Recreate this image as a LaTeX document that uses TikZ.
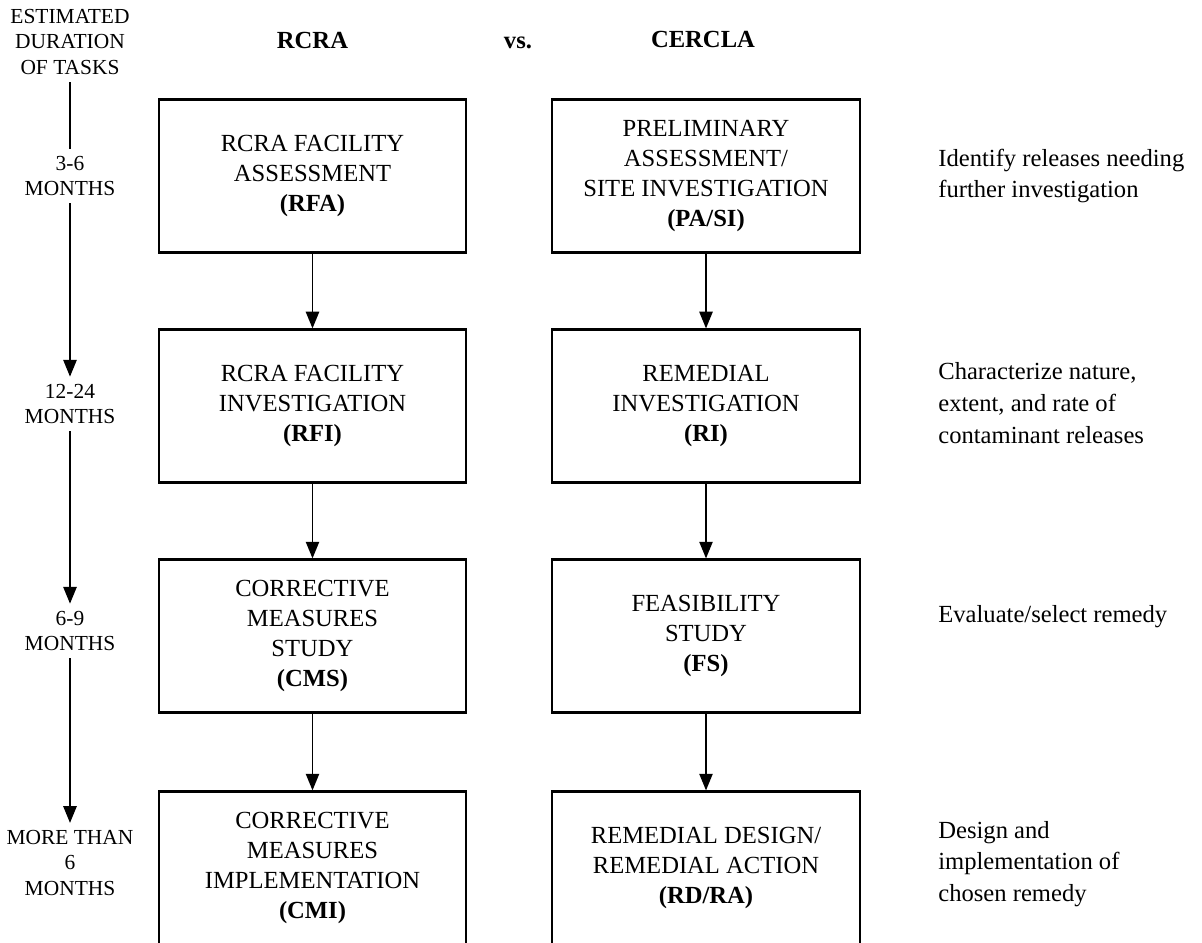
\documentclass[tikz,border=0pt]{standalone}
\usepackage{fontspec}
\setmainfont{Liberation Serif}
\usetikzlibrary{arrows.meta}
\tikzset{
  stagebox/.style={draw, line width=1.2pt, minimum width=6.15cm, minimum height=3.06cm,
    inner sep=0pt, align=center, font=\fontsize{14}{17}\selectfont},
  flow/.style={-{Triangle[length=9.5pt,width=7.5pt]}, line width=1.1pt},
  timeline/.style={line width=1.1pt},
  months/.style={align=center, inner sep=4pt, font=\fontsize{12.2}{14.5}\selectfont},
  note/.style={align=left, anchor=west, inner sep=0pt, font=\fontsize{14}{18}\selectfont},
  head/.style={anchor=base, font=\fontsize{14}{17}\selectfont\bfseries}
}

\begin{document}
\begin{tikzpicture}
        \clip (0,0) rectangle (24.04,-18.86);
        % Headings
        \node[months] (dur) at (1.4,-0.84) {ESTIMATED\\DURATION\\OF TASKS};
        \node[head] (rcra) at (6.25,-0.98) {RCRA};
        \node[head] (vs) at (10.36,-0.98) {vs.};
        \node[head] (cercla) at (14.06,-0.96) {CERCLA};

        % The RCRA steps
        \node[stagebox] (rfa) at (6.25,-3.52) {RCRA FACILITY\\ASSESSMENT\\\textbf{(RFA)}};
        \node[stagebox] (rfi) at (6.25,-8.12) {RCRA FACILITY\\INVESTIGATION\\\textbf{(RFI)}};
        \node[stagebox] (cms) at (6.25,-12.72) {CORRECTIVE\\MEASURES\\STUDY\\\textbf{(CMS)}};
        \node[stagebox] (cmi) at (6.25,-17.36) {CORRECTIVE\\MEASURES\\IMPLEMENTATION\\\textbf{(CMI)}};

        % The CERCLA steps
        \node[stagebox] (pasi) at (14.12,-3.52) {PRELIMINARY\\ASSESSMENT/\\SITE INVESTIGATION\\\textbf{(PA/SI)}};
        \node[stagebox] (ri) at (14.12,-8.12) {REMEDIAL\\INVESTIGATION\\\textbf{(RI)}};
        \node[stagebox] (fs) at (14.12,-12.72) {FEASIBILITY\\STUDY\\\textbf{(FS)}};
        \node[stagebox] (rdra) at (14.12,-17.36) {REMEDIAL DESIGN/\\REMEDIAL ACTION\\\textbf{(RD/RA)}};

        \draw[flow] (rfa) -- (rfi);
        \draw[flow] (rfi) -- (cms);
        \draw[flow] (cms) -- (cmi);
        \draw[flow] (pasi) -- (ri);
        \draw[flow] (ri) -- (fs);
        \draw[flow] (fs) -- (rdra);

        % Durations
        \node[months] (t1) at (1.4,-3.52) {3-6\\MONTHS};
        \node[months] (t2) at (1.4,-8.08) {12-24\\MONTHS};
        \node[months] (t3) at (1.4,-12.62) {6-9\\MONTHS};
        \node[months] (t4) at (1.4,-17.26) {MORE THAN\\6\\MONTHS};
        \draw[timeline] (dur) -- (t1);
        \draw[flow] (t1) -- (t2);
        \draw[flow] (t2) -- (t3);
        \draw[flow] (t3) -- (t4);

        % What each step does
        \node[note] (n1) at (18.76,-3.52) {Identify releases needing\\further investigation};
        \node[note] (n2) at (18.76,-8.06) {Characterize nature,\\extent, and rate of\\contaminant releases};
        \node[note] (n3) at (18.76,-12.34) {Evaluate/select remedy};
        \node[note] (n4) at (18.76,-17.28) {Design and\\implementation of\\chosen remedy};
\end{tikzpicture}
\end{document}
